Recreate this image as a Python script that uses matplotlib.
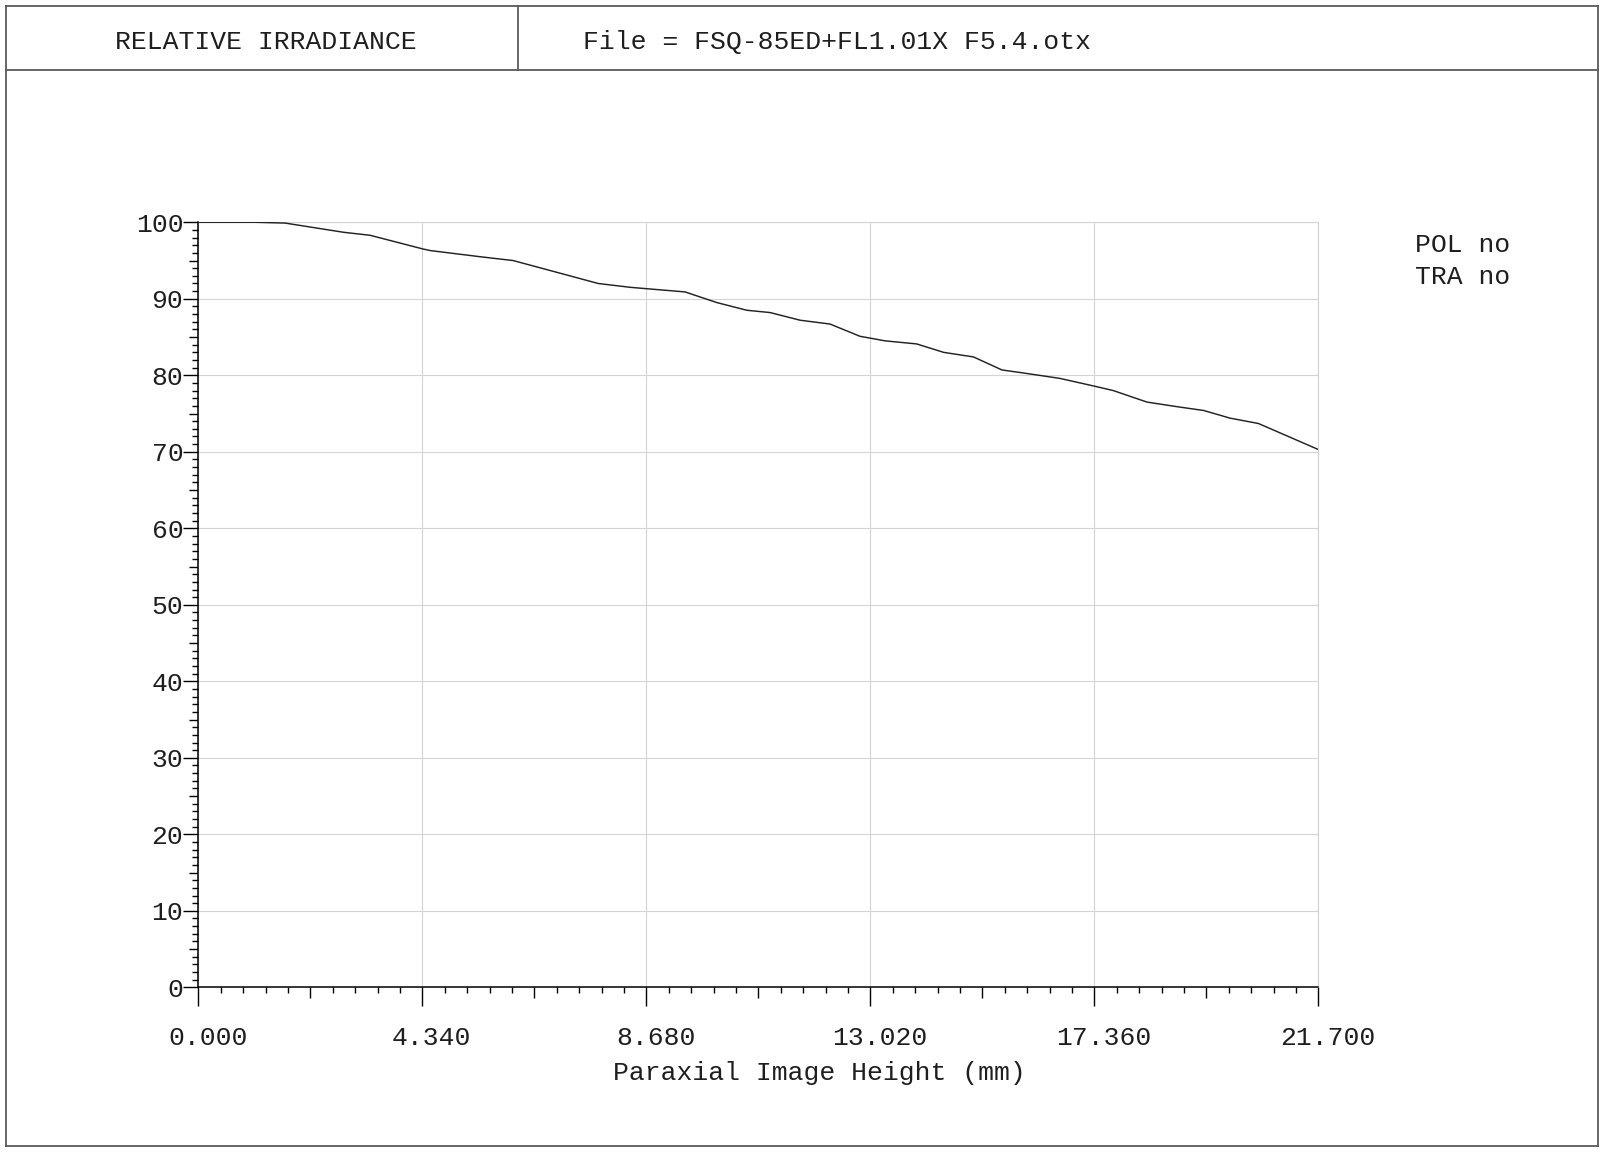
import matplotlib
matplotlib.use("Agg")
import matplotlib.pyplot as plt
from matplotlib.lines import Line2D
from matplotlib.ticker import FixedLocator, NullFormatter
from matplotlib.transforms import ScaledTranslation

plt.rcParams['font.family'] = ['Liberation Mono', 'DejaVu Sans Mono']

# Relative irradiance
image_height = [0, 1.10, 1.68, 2.81, 3.33, 4.36, 4.50, 5.46, 6.10, 7.75, 8.37, 9.43,
                10.05, 10.63, 11.08, 11.66, 12.24, 12.82, 13.31, 13.92, 14.44, 15.02,
                15.57, 15.99, 16.69, 17.35, 17.73, 18.38, 18.96, 19.48, 19.99, 20.54, 21.70]
irradiance = [100, 100, 99.9, 98.7, 98.3, 96.5, 96.3, 95.5, 95.0, 92.0, 91.5, 90.9,
              89.5, 88.5, 88.2, 87.2, 86.7, 85.1, 84.5, 84.1, 83.0, 82.4,
              80.7, 80.3, 79.6, 78.6, 78.0, 76.5, 75.9, 75.4, 74.4, 73.7, 70.3]

x_ticks = [0.0, 4.34, 8.68, 13.02, 17.36, 21.70]
x_labels = ['0.000', '4.340', '8.680', '13.020', '17.360', '21.700']
y_ticks = [0, 10, 20, 30, 40, 50, 60, 70, 80, 90, 100]

title = 'RELATIVE IRRADIANCE'
file_text = 'File = FSQ-85ED+FL1.01X F5.4.otx'
notes = ['POL no', 'TRA no']

W, H = 1604, 1153
fig = plt.figure(figsize=(W / 100, H / 100), dpi=100)

def fx(px):
    return px / W

def fy(py):
    return 1 - py / H

# page frame and header
frame_col = '#5a5a5a'
for (x0, y0, x1, y1) in [(6, 6, 1598, 6), (6, 1146, 1598, 1146), (6, 6, 6, 1146),
                         (1598, 6, 1598, 1146), (6, 70, 1598, 70), (518, 6, 518, 70)]:
    fig.add_artist(Line2D([fx(x0), fx(x1)], [fy(y0), fy(y1)], color=frame_col, lw=1.3))

fs = 19
tc = '#1e1e1e'
fig.text(fx(266), fy(42), title, ha='center', va='center', fontsize=fs, color=tc)
fig.text(fx(583), fy(42), file_text, ha='left', va='center', fontsize=fs, color=tc)
fig.text(fx(1415), fy(245), notes[0], ha='left', va='center', fontsize=fs, color=tc)
fig.text(fx(1415), fy(277), notes[1], ha='left', va='center', fontsize=fs, color=tc)

# axes
left, right, top, bottom = 198.3, 1318.3, 222.3, 987.3
ax = fig.add_axes([fx(left), fy(bottom), fx(right - left), (bottom - top) / H])
ax.plot(image_height, irradiance, color='#222222', lw=1.05, zorder=3)
ax.set_xlim(0, 21.7)
ax.set_ylim(0, 100)

grid_col = '#d4d4d4'
ax.grid(True, color=grid_col, lw=0.8)
ax.spines['top'].set_color(grid_col)
ax.spines['right'].set_color(grid_col)
ax.spines['top'].set_linewidth(0.8)
ax.spines['right'].set_linewidth(0.8)
ax.spines['left'].set_linewidth(1.1)
ax.spines['bottom'].set_linewidth(1.1)

ax.set_xticks(x_ticks)
ax.set_xticklabels(x_labels, fontsize=fs, color=tc)
ax.set_yticks(y_ticks)
ax.set_yticklabels([str(v) for v in y_ticks], fontsize=fs, color=tc)

x_minor = [i * 0.434 for i in range(51) if i % 5 != 0]
y_minor = [v for v in range(101) if v % 5 != 0]
ax.xaxis.set_minor_locator(FixedLocator(x_minor))
ax.yaxis.set_minor_locator(FixedLocator(y_minor))
ax.tick_params(axis='x', which='major', length=13.7, width=1.0, pad=14, direction='out')
ax.tick_params(axis='x', which='minor', length=4.3, width=1.0, direction='out')
ax.tick_params(axis='y', which='major', length=10.8, width=1.0, pad=0, direction='out')
ax.tick_params(axis='y', which='minor', length=4.0, width=1.0, direction='out')
ax.grid(False, which='minor')

# x labels sit a little right of their ticks in the reference
shift = ScaledTranslation(9.5 / 100, 0, fig.dpi_scale_trans)
for lab in ax.get_xticklabels():
    lab.set_transform(lab.get_transform() + shift)

# medium ticks at half intervals
secx = ax.secondary_xaxis('bottom')
secx.set_xticks([2.17, 6.51, 10.85, 15.19, 19.53])
secx.xaxis.set_major_formatter(NullFormatter())
secx.tick_params(length=7.9, width=1.0, direction='out')
secx.spines['bottom'].set_visible(False)

secy = ax.secondary_yaxis('left')
secy.set_yticks([5, 15, 25, 35, 45, 55, 65, 75, 85, 95])
secy.yaxis.set_major_formatter(NullFormatter())
secy.tick_params(length=6.5, width=1.0, direction='out')
secy.spines['left'].set_visible(False)

fig.text(fx(819), fy(1073), 'Paraxial Image Height (mm)', ha='center', va='center',
         fontsize=fs, color=tc)

fig.savefig('out.png', dpi=100)
